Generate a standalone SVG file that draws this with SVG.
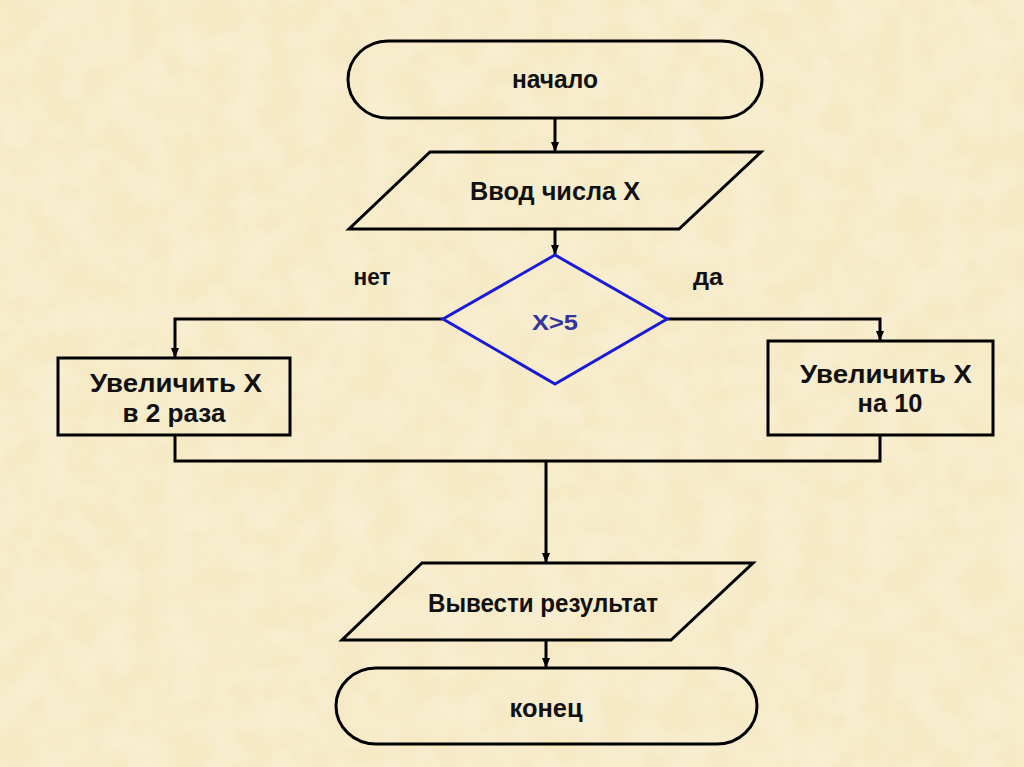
<svg xmlns="http://www.w3.org/2000/svg" width="1024" height="767" viewBox="0 0 1024 767">
<defs>
<marker id="arr" viewBox="0 0 10 10" refX="10" refY="5" markerWidth="10" markerHeight="10" markerUnits="userSpaceOnUse" orient="auto">
<path d="M0,1 L10,5 L0,9 Z" fill="#000"/>
</marker>
<filter id="tex" x="0" y="0" width="100%" height="100%">
<feTurbulence type="fractalNoise" baseFrequency="0.03" numOctaves="3" seed="4"/>
<feColorMatrix type="matrix" values="0 0 0 0 1  0 0 0 0 1  0 0 0 0 1  0 0 0 0.9 -0.3"/>
<feComposite in2="SourceGraphic" operator="in"/>
</filter>
</defs>
<style>
.shape{fill:none;stroke:#000;stroke-width:3;stroke-linejoin:miter}
.line{fill:none;stroke:#000;stroke-width:3}
.t{font-family:"Liberation Sans",Arial,sans-serif;font-weight:bold;font-size:25px;fill:#111;text-anchor:middle}
</style>
<rect x="0" y="0" width="1024" height="767" fill="#f6eac6"/>
<rect x="0" y="0" width="1024" height="767" fill="#fbf3dc" filter="url(#tex)" opacity="0.5"/>
<g id="connectors">
<line class="line" x1="555" y1="118" x2="555" y2="152" marker-end="url(#arr)"/>
<line class="line" x1="555" y1="229" x2="555" y2="255" marker-end="url(#arr)"/>
<polyline class="line" points="443,319 175,319 175,358" marker-end="url(#arr)"/>
<polyline class="line" points="667,319 880,319 880,341" marker-end="url(#arr)"/>
<polyline class="line" points="175,435 175,461 880,461 880,435"/>
<line class="line" x1="546" y1="461" x2="546" y2="563" marker-end="url(#arr)"/>
<line class="line" x1="546" y1="640" x2="546" y2="668" marker-end="url(#arr)"/>
</g>
<g id="start">
<rect class="shape" x="348" y="41" width="414" height="77" rx="40" ry="38.5"/>
<text class="t" x="555" y="88" textLength="86" lengthAdjust="spacingAndGlyphs">начало</text>
</g>
<g id="input">
<polygon class="shape" points="430,152 761,152 679,229 349,229"/>
<text class="t" x="555" y="200" textLength="170" lengthAdjust="spacingAndGlyphs">Ввод числа X</text>
</g>
<g id="decision">
<polygon points="555,255 667,319 555,384 443,319" fill="none" stroke="#1a1ad8" stroke-width="3"/>
<text class="t" x="555" y="330" style="fill:#34349c;font-size:22px" textLength="46" lengthAdjust="spacingAndGlyphs">X&gt;5</text>
</g>
<g id="label-no"><text class="t" x="372" y="285" style="font-size:24px" textLength="37" lengthAdjust="spacingAndGlyphs">нет</text></g>
<g id="label-yes"><text class="t" x="708" y="285" style="font-size:24px" textLength="30" lengthAdjust="spacingAndGlyphs">да</text></g>
<g id="left-box">
<rect class="shape" x="58" y="358" width="232" height="77"/>
<text class="t" x="176" y="392" textLength="172" lengthAdjust="spacingAndGlyphs">Увеличить X</text>
<text class="t" x="174" y="422" textLength="103" lengthAdjust="spacingAndGlyphs">в 2 раза</text>
</g>
<g id="right-box">
<rect class="shape" x="768" y="341" width="225" height="94"/>
<text class="t" x="886" y="383" textLength="172" lengthAdjust="spacingAndGlyphs">Увеличить X</text>
<text class="t" x="890" y="412" textLength="65" lengthAdjust="spacingAndGlyphs">на 10</text>
</g>
<g id="output">
<polygon class="shape" points="422,563 753,563 671,640 342,640"/>
<text class="t" x="543" y="612" textLength="230" lengthAdjust="spacingAndGlyphs">Вывести результат</text>
</g>
<g id="end">
<rect class="shape" x="336" y="668" width="421" height="76" rx="40" ry="38"/>
<text class="t" x="546" y="717" textLength="73" lengthAdjust="spacingAndGlyphs">конец</text>
</g>
</svg>
